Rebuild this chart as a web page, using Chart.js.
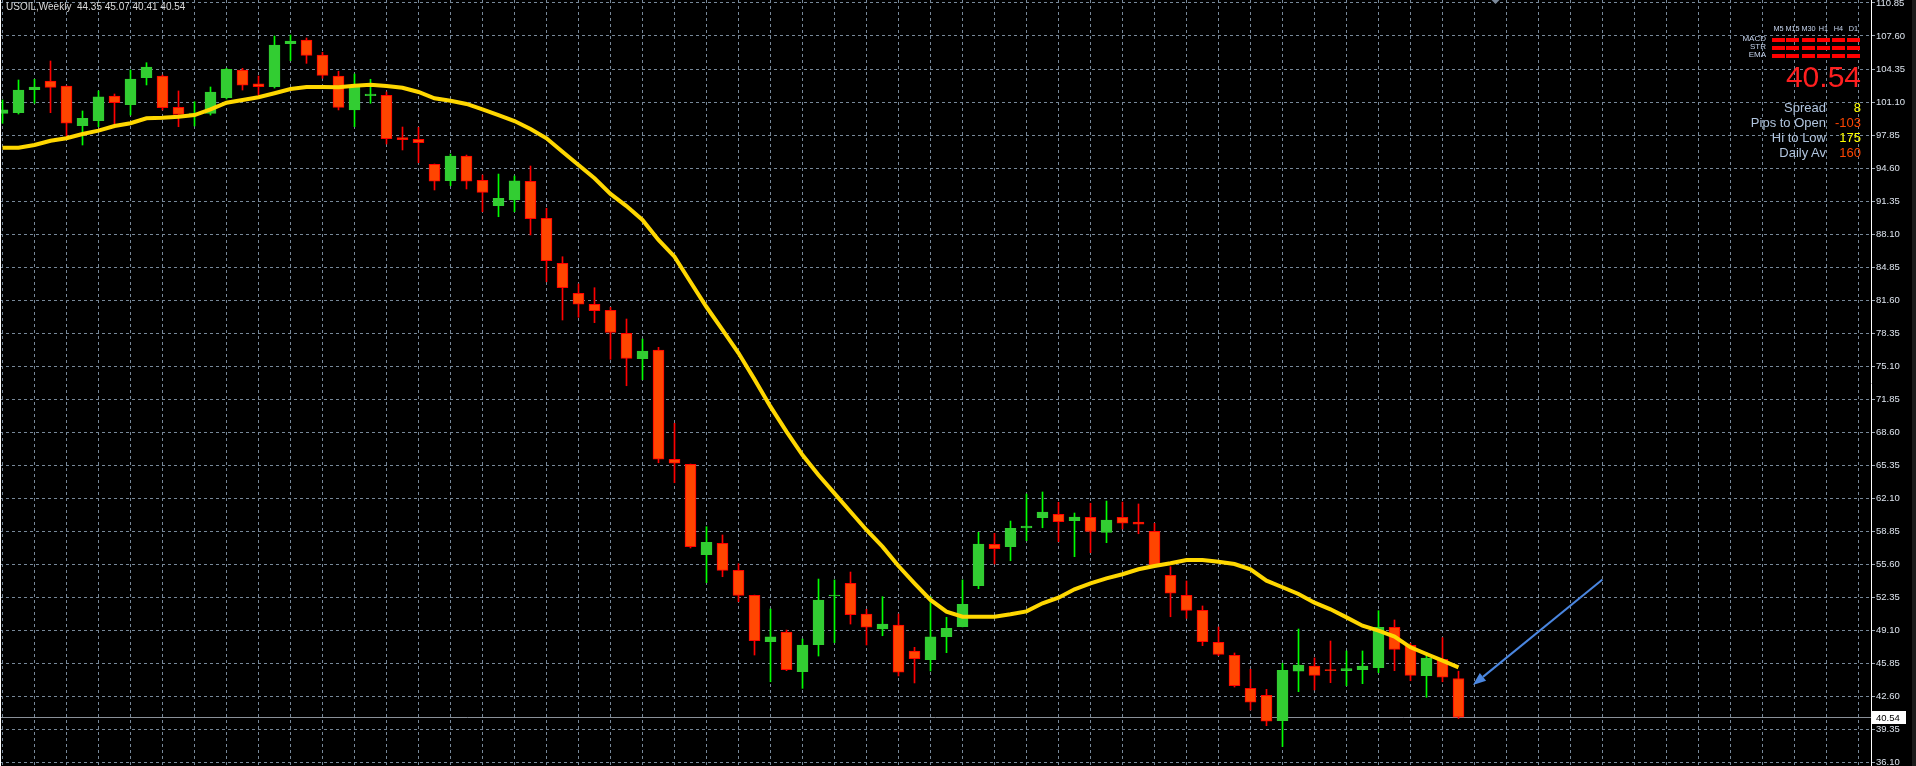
<!DOCTYPE html>
<html lang="en">
<head>
    <meta charset="UTF-8">
    <title>USOIL Weekly</title>
    <script src="https://cdn.jsdelivr.net/npm/chart.js"></script>
    <style>
        body {
            margin: 0;
            background: #000;
            overflow: hidden;
            font-family: 'Liberation Sans', Arial, sans-serif;
        }
        .wrap { position: relative; width: 1916px; height: 766px; }
        .edge { position: absolute; right: 0; top: 0; width: 4px; height: 766px; background: #1b1b1b; }
        .txt { position: absolute; white-space: pre; line-height: 1; }
        .title { left: 6px; top: 1.5px; font-size: 10px; color: #d9d9d9; }
        .tf { font-size: 7.3px; color: #c6d4ee; width: 30px; text-align: center; }
        .row { font-size: 8px; color: #c6d4ee; right: 150px; text-align: right; }
        .seg { position: absolute; width: 13px; height: 4px; background: #ff0000; }
        .big { right: 55px; top: 61.6px; font-size: 30px; color: #ff1f1f; }
        .lbl { right: 90px; font-size: 13px; color: #b0c4de; }
        .val { right: 55px; font-size: 13px; }
    </style>
</head>
<body>
    <div class="wrap">
        <canvas id="chart"></canvas>
        <div class="edge"></div>
    </div>

    <script>
        const symbol = 'USOIL';
        const period = 'Weekly';

        // price axis labels
        const yTicks = [110.85, 107.60, 104.35, 101.10, 97.85, 94.60, 91.35, 88.10, 84.85, 81.60, 78.35, 75.10,
            71.85, 68.60, 65.35, 62.10, 58.85, 55.60, 52.35, 49.10, 45.85, 42.60, 39.35, 36.10];

        // weekly candles, oldest first
        const opens = [
            99.99, 100.05, 102.31, 103.17, 102.68, 98.77, 99.26, 101.69, 100.84, 103.50,
            103.66, 100.58, 99.98, 99.99, 101.53, 104.25, 102.88, 102.61, 106.84, 107.21,
            105.73, 103.66, 100.32, 101.72, 101.76, 97.59, 97.43, 94.97, 93.36, 95.79,
            93.39, 90.89, 91.46, 93.30, 89.65, 85.22, 82.27, 81.19, 80.60, 78.33,
            75.83, 76.69, 65.93, 65.44, 56.54, 57.66, 55.00, 52.54, 47.97, 48.93,
            45.02, 47.68, 52.47, 53.72, 50.70, 49.22, 49.62, 47.06, 46.20, 48.46,
            49.45, 53.49, 57.56, 57.33, 59.17, 60.18, 60.51, 59.88, 60.22, 58.74,
            60.22, 59.76, 58.84, 54.51, 52.54, 51.06, 47.91, 46.63, 43.38, 42.69,
            40.19, 45.06, 45.58, 45.22, 45.12, 45.22, 45.41, 49.39, 47.62, 44.62,
            46.24, 44.35
        ];
        const highs = [
            101.30, 103.27, 103.34, 105.14, 102.70, 100.22, 102.19, 101.89, 104.25, 104.97,
            103.76, 102.19, 101.13, 102.58, 104.42, 104.42, 103.66, 107.60, 107.70, 107.40,
            106.00, 104.13, 103.86, 103.34, 102.09, 98.64, 98.61, 95.00, 95.98, 95.88,
            93.92, 94.01, 93.82, 94.80, 90.64, 85.87, 83.19, 82.82, 80.89, 79.74,
            77.77, 76.95, 69.47, 65.46, 59.29, 58.48, 55.65, 52.56, 51.19, 49.12,
            48.24, 54.14, 54.05, 54.83, 51.16, 52.40, 50.70, 47.42, 52.40, 50.37,
            54.05, 58.74, 58.64, 59.85, 62.51, 62.71, 61.70, 60.64, 61.60, 61.82,
            61.72, 61.53, 59.63, 55.36, 53.95, 51.49, 49.42, 46.86, 45.25, 43.28,
            45.85, 49.22, 46.37, 48.04, 47.06, 47.06, 51.02, 50.11, 47.81, 46.93,
            48.37, 45.07
        ];
        const lows = [
            99.01, 99.92, 100.98, 100.05, 97.69, 96.87, 98.67, 98.94, 99.82, 102.78,
            100.32, 98.67, 98.74, 99.82, 101.40, 102.28, 101.76, 102.48, 105.17, 104.91,
            103.44, 100.32, 98.67, 100.98, 96.97, 96.38, 95.13, 92.44, 92.86, 92.54,
            90.30, 89.81, 90.30, 88.01, 83.41, 79.64, 79.91, 79.38, 75.77, 73.17,
            73.77, 65.59, 63.62, 57.20, 53.78, 54.37, 51.91, 46.66, 44.03, 45.12,
            43.38, 46.56, 47.87, 49.71, 47.65, 48.56, 44.60, 43.91, 45.09, 46.89,
            49.43, 53.19, 55.62, 55.94, 57.91, 59.19, 57.82, 56.34, 56.73, 57.72,
            59.07, 58.60, 55.33, 50.43, 50.27, 47.58, 46.59, 43.51, 41.25, 39.70,
            37.65, 43.05, 43.22, 43.94, 43.64, 43.84, 44.92, 45.12, 44.13, 42.50,
            44.03, 40.41
        ];
        const closes = [
            100.32, 102.28, 102.58, 102.55, 99.01, 99.50, 101.60, 101.03, 103.37, 104.55,
            100.54, 99.89, 100.00, 102.09, 104.32, 102.75, 102.61, 106.71, 107.11, 105.70,
            103.73, 100.58, 102.61, 101.89, 97.49, 97.39, 97.10, 93.30, 95.79, 93.30,
            92.21, 91.62, 93.33, 89.61, 85.48, 82.82, 81.19, 80.56, 78.43, 75.87,
            76.59, 65.93, 65.54, 57.33, 57.76, 55.00, 52.54, 48.07, 48.44, 45.22,
            47.65, 52.08, 52.57, 50.63, 49.39, 49.71, 44.96, 46.30, 48.44, 49.29,
            51.65, 57.59, 57.13, 59.14, 59.36, 60.74, 59.79, 60.25, 58.84, 59.95,
            59.63, 59.53, 55.36, 52.74, 51.06, 47.97, 46.73, 43.64, 42.01, 40.14,
            45.16, 45.68, 44.66, 45.12, 45.32, 45.58, 49.39, 47.22, 44.66, 46.37,
            44.47, 40.54
        ];
        // moving average (yellow line)
        const ema = [
            96.60, 96.60, 96.87, 97.29, 97.53, 97.95, 98.28, 98.74, 99.01, 99.50,
            99.56, 99.66, 99.82, 100.38, 101.03, 101.30, 101.57, 101.96, 102.38, 102.58,
            102.58, 102.55, 102.71, 102.80, 102.68, 102.51, 102.09, 101.47, 101.23, 100.91,
            100.38, 99.82, 99.23, 98.45, 97.53, 96.21, 94.90, 93.59, 92.05, 90.86,
            89.49, 87.52, 85.87, 83.38, 80.92, 78.66, 76.39, 73.80, 71.11, 68.65,
            66.35, 64.38, 62.58, 60.77, 58.97, 57.33, 55.42, 53.72, 52.08, 50.93,
            50.43, 50.43, 50.43, 50.67, 50.96, 51.75, 52.30, 53.13, 53.72, 54.21,
            54.61, 55.10, 55.42, 55.69, 56.02, 56.02, 55.85, 55.62, 55.10, 53.98,
            53.33, 52.67, 51.81, 51.16, 50.37, 49.55, 49.06, 48.47, 47.42, 46.76,
            46.10, 45.45
        ];
        const weeks = opens.map((_, i) => i);

        // hand drawn arrow: [week, price]
        const arrowFrom = [100, 54.1];
        const arrowTo = [91.9, 43.7];

        // info panel
        const timeframes = ['M5', 'M15', 'M30', 'H1', 'H4', 'D1'];
        const signals = ['MACD', 'STR', 'EMA'];
        const infoLabels = ['Spread', 'Pips to Open', 'Hi to Low', 'Daily Av'];
        const infoValues = ['8', '-103', '175', '160'];
        const infoColors = ['#ffff00', '#ff4500', '#ffff00', '#ff4500'];

        const last = weeks.length - 1;
        const lastPrice = closes[last];

        // --- overlay text ---
        const wrap = document.querySelector('.wrap');
        function addText(cls, text, style) {
            const d = document.createElement('div');
            d.className = 'txt ' + cls;
            d.textContent = text;
            Object.assign(d.style, style || {});
            wrap.appendChild(d);
            return d;
        }

        addText('title', `${symbol},${period}  ${opens[last].toFixed(2)} ${highs[last].toFixed(2)} ${lows[last].toFixed(2)} ${closes[last].toFixed(2)}`);

        const segX = [1772, 1786, 1802, 1817, 1832, 1847];
        timeframes.forEach((tf, i) => addText('tf', tf, { left: (segX[i] - 8.5) + 'px', top: '25.4px' }));
        const rowTops = [34.9, 43.2, 50.9];
        const segTops = [38, 46, 54];
        signals.forEach((s, r) => {
            addText('row', s, { top: rowTops[r] + 'px' });
            segX.forEach(x => {
                const seg = document.createElement('div');
                seg.className = 'seg';
                seg.style.left = x + 'px';
                seg.style.top = segTops[r] + 'px';
                wrap.appendChild(seg);
            });
        });
        addText('big', lastPrice.toFixed(2));
        infoLabels.forEach((l, i) => {
            const top = (101.3 + i * 15) + 'px';
            addText('lbl', l, { top });
            addText('val', infoValues[i], { top, color: infoColors[i] });
        });

        // --- chart ---
        const gridColor = '#778899';
        const xGrid = [];
        for (let i = 0; i <= 116; i += 2) xGrid.push(i);

        const extras = {
            id: 'extras',
            beforeDatasetsDraw(chart) {
                const { ctx, chartArea, scales: { y } } = chart;
                const py = Math.round(y.getPixelForValue(lastPrice)) + 0.5;
                ctx.save();
                ctx.strokeStyle = '#8a9099';
                ctx.lineWidth = 1;
                ctx.beginPath();
                ctx.moveTo(chartArea.left, py);
                ctx.lineTo(chartArea.right, py);
                ctx.stroke();
                ctx.restore();
            },
            afterDatasetsDraw(chart) {
                const { ctx, scales: { x, y } } = chart;
                const x1 = x.getPixelForValue(arrowFrom[0]), y1 = y.getPixelForValue(arrowFrom[1]);
                const x2 = x.getPixelForValue(arrowTo[0]), y2 = y.getPixelForValue(arrowTo[1]);
                const a = Math.atan2(y2 - y1, x2 - x1);
                const len = 13, half = 5;
                const bx = x2 - Math.cos(a) * len, by = y2 - Math.sin(a) * len;
                ctx.save();
                ctx.strokeStyle = '#4a86e0';
                ctx.fillStyle = '#4a86e0';
                ctx.lineWidth = 2;
                ctx.beginPath();
                ctx.moveTo(x1, y1);
                ctx.lineTo(bx, by);
                ctx.stroke();
                ctx.beginPath();
                ctx.moveTo(x2, y2);
                ctx.lineTo(bx + Math.sin(a) * half, by - Math.cos(a) * half);
                ctx.lineTo(bx - Math.sin(a) * half, by + Math.cos(a) * half);
                ctx.closePath();
                ctx.fill();
                ctx.restore();
            },
            afterDraw(chart) {
                const { ctx, chartArea, scales: { y } } = chart;
                const py = Math.round(y.getPixelForValue(lastPrice)) + 0.5;
                ctx.save();
                // last price tag on the axis
                ctx.fillStyle = '#ffffff';
                ctx.fillRect(chartArea.right + 1, py - 6.5, 34, 13);
                ctx.fillStyle = '#000000';
                ctx.font = '9.5px "Liberation Sans"';
                ctx.textBaseline = 'middle';
                ctx.fillText(lastPrice.toFixed(2), chartArea.right + 5, py + 0.5);
                // window edge on the left
                ctx.strokeStyle = '#ffffff';
                ctx.lineWidth = 1;
                ctx.beginPath();
                ctx.moveTo(0.5, 0);
                ctx.lineTo(0.5, chartArea.bottom);
                ctx.stroke();
                // chart shift marker
                ctx.fillStyle = '#7b8899';
                ctx.beginPath();
                ctx.moveTo(1491.5, 0);
                ctx.lineTo(1499.5, 0);
                ctx.lineTo(1495.5, 4);
                ctx.closePath();
                ctx.fill();
                ctx.restore();
            }
        };

        new Chart(document.getElementById('chart'), {
            type: 'line',
            data: {
                datasets: [
                    {
                        type: 'line',
                        label: 'EMA',
                        data: weeks.map(i => ({ x: i, y: ema[i] })),
                        borderColor: '#ffd700',
                        borderWidth: 4,
                        pointRadius: 0,
                        tension: 0,
                        order: 0
                    },
                    {
                        type: 'bar',
                        label: 'Body',
                        data: weeks.map(i => ({ x: i, y: [opens[i], closes[i]] })),
                        backgroundColor: weeks.map(i => closes[i] >= opens[i] ? '#32cd32' : '#ff4500'),
                        borderColor: weeks.map(i => closes[i] >= opens[i] ? '#32cd32' : '#ff0000'),
                        borderWidth: 1,
                        borderSkipped: false,
                        barThickness: 11,
                        grouped: false,
                        order: 1
                    },
                    {
                        type: 'bar',
                        label: 'Wick',
                        data: weeks.map(i => ({ x: i, y: [lows[i], highs[i]] })),
                        backgroundColor: weeks.map(i => closes[i] >= opens[i] ? '#00ff00' : '#ff0000'),
                        borderWidth: 0,
                        barThickness: 1,
                        grouped: false,
                        order: 2
                    }
                ]
            },
            options: {
                responsive: true,
                maintainAspectRatio: false,
                animation: false,
                events: [],
                layout: { padding: 0 },
                plugins: { legend: { display: false }, tooltip: { enabled: false } },
                scales: {
                    x: {
                        type: 'linear',
                        min: -0.15625,
                        max: 116.78125,
                        offset: false,
                        afterBuildTicks: s => { s.ticks = xGrid.map(v => ({ value: v })); },
                        afterFit: s => { s.height = 0; s.paddingLeft = 0; s.paddingRight = 0; },
                        ticks: { display: false },
                        grid: { color: gridColor, drawTicks: false, offset: false },
                        border: { display: false, dash: [3, 3] }
                    },
                    y: {
                        type: 'linear',
                        position: 'right',
                        min: 35.735,
                        max: 111.144,
                        beginAtZero: false,
                        afterBuildTicks: s => { s.ticks = yTicks.map(v => ({ value: v })); },
                        afterFit: s => { s.width = 45; s.paddingTop = 0; s.paddingBottom = 0; },
                        ticks: {
                            color: '#dde4ee',
                            font: { family: 'Liberation Sans', size: 9.5 },
                            padding: 1,
                            autoSkip: false,
                            callback: v => Number(v).toFixed(2)
                        },
                        grid: { color: gridColor, tickLength: 4, tickColor: '#9aa4b0', tickBorderDash: [] },
                        border: { display: true, color: '#ffffff', width: 1, dash: [3, 3] }
                    }
                }
            },
            plugins: [extras]
        });
    </script>
</body>
</html>
